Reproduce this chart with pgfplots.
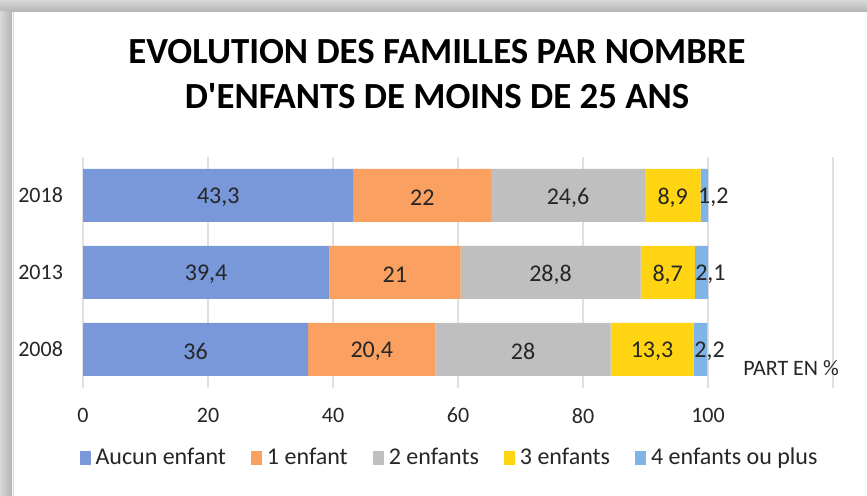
\documentclass[border=0pt]{standalone}
\usepackage{pgfplots}
\pgfplotsset{compat=1.18}
\usepackage{fontspec}
\setmainfont{Carlito}

\definecolor{cAucun}{HTML}{7898DA}
\definecolor{cUn}{HTML}{FAA060}
\definecolor{cDeux}{HTML}{BFBFBF}
\definecolor{cTrois}{HTML}{FFD412}
\definecolor{cQuatre}{HTML}{80B4E6}
\definecolor{txt}{HTML}{262626}

\begin{document}
\begin{tikzpicture}
\useasboundingbox (0pt,0pt) rectangle (433.5pt,248pt);
\begin{scope}[x=0.5pt,y=0.5pt]
\fill[white] (0,0) rectangle (867,496);
% cadre ombre
\shade[top color=black!15, bottom color=black!30] (0,484) rectangle (867,496);
\shade[left color=black!15, right color=black!30] (0,0) rectangle (12,484);
\draw[black!15, line width=0.6pt] (13.5,0) -- (13.5,484);
\node[font=\bfseries\fontsize{18.4}{22.5}\selectfont, align=center] at (437,422)
  {EVOLUTION DES FAMILLES PAR NOMBRE\\D\textquotesingle ENFANTS DE MOINS DE 25 ANS};
\end{scope}

\begin{axis}[
   at={(41.5pt,54pt)}, anchor=south west,
   scale only axis, width=375pt, height=115.5pt,
   xbar stacked, bar width=26.5pt,
   xmin=0, xmax=120, ymin=-0.5, ymax=2.5,
   ytick={0,1,2}, yticklabels={2008,2013,2018},
   xtick={0,20,...,120}, xticklabels={0,20,40,60,80,100,},
   xmajorgrids, grid style={black!12, line width=0.6pt},
   axis line style={draw=none}, major tick length=0pt,
   tick label style={font=\fontsize{11}{12}\selectfont, text=txt},
   yticklabel style={xshift=-6.5pt},
   xticklabel style={yshift=-6.5pt},
   /pgf/number format/use comma,
   /pgf/number format/assume math mode=true,
   nodes near coords,
   every node near coord/.append style={font=\fontsize{12}{13}\selectfont, text=txt, yshift=-1pt},
   xlabel={PART EN \%},
   xlabel style={at={(axis description cs:0.871,0.087)}, anchor=west,
                 font=\fontsize{11}{12}\selectfont, text=txt},
   legend style={at={(0.49,-0.303)}, anchor=center, legend columns=5,
                 draw=none, fill=none, font=\fontsize{12}{13}\selectfont,
                 text=txt,
                 /tikz/every odd column/.append style={column sep=0.5pt},
                 /tikz/every even column/.append style={column sep=10.5pt}},
   legend image code/.code={\fill[#1] (0pt,-3.5pt) rectangle (5.5pt,3.5pt);},
]
\addplot[fill=cAucun, draw=none] coordinates {(36,0) (39.4,1) (43.3,2)};
\addplot[fill=cUn, draw=none] coordinates {(20.4,0) (21,1) (22,2)};
\addplot[fill=cDeux, draw=none] coordinates {(28,0) (28.8,1) (24.6,2)};
\addplot[fill=cTrois, draw=none] coordinates {(13.3,0) (8.7,1) (8.9,2)};
\addplot[fill=cQuatre, draw=none,
   every node near coord/.append style={xshift=4.5pt}]
   coordinates {(2.2,0) (2.1,1) (1.2,2)};
\legend{Aucun enfant, 1 enfant, 2 enfants, 3 enfants, 4 enfants ou plus}
\end{axis}
\end{tikzpicture}
\end{document}
